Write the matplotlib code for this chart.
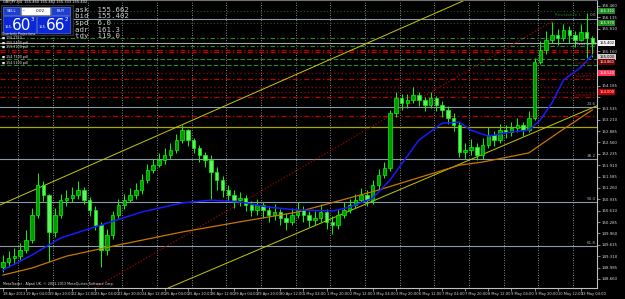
#  GBPJPY H4 chart, MetaTrader style, recreated with matplotlib

import numpy as np
import matplotlib
matplotlib.use("Agg")
import matplotlib.pyplot as plt
from matplotlib.patches import Rectangle

#  H4 candles (price)
opens = [149.00, 149.14, 149.26, 149.31, 149.49, 149.77, 150.49, 151.34, 151.06, 150.00,
         150.49, 150.91, 150.97, 151.06, 151.20, 150.91, 150.63, 150.20, 149.49, 149.91,
         150.49, 150.77, 150.91, 151.06, 151.20, 151.49, 151.77, 151.91, 152.06, 152.20,
         152.34, 152.63, 152.91, 152.63, 152.40, 152.20, 152.06, 151.71, 151.49, 151.20,
         151.06, 150.91, 150.97, 150.77, 150.63, 150.77, 150.63, 150.49, 150.57, 150.40,
         150.29, 150.49, 150.63, 150.49, 150.34, 150.40, 150.57, 150.29, 150.20, 150.49,
         150.63, 150.77, 150.91, 151.06, 150.91, 151.34, 151.63, 151.83, 153.40, 153.83,
         153.69, 153.77, 153.91, 153.77, 153.63, 153.83, 153.63, 153.49, 153.26, 153.06,
         152.29, 152.34, 152.43, 152.20, 152.49, 152.77, 152.63, 152.91, 152.86, 152.97,
         153.06, 152.91, 153.26, 154.86, 155.20, 155.49, 155.63, 155.54, 155.77, 155.63,
         155.49, 155.71, 155.54]
closes = [149.14, 149.26, 149.31, 149.49, 149.77, 150.49, 151.34, 151.06, 150.00, 150.49,
          150.91, 150.97, 151.06, 151.20, 150.91, 150.63, 150.20, 149.49, 149.91, 150.49,
          150.77, 150.91, 151.06, 151.20, 151.49, 151.77, 151.91, 152.06, 152.20, 152.34,
          152.63, 152.91, 152.63, 152.40, 152.20, 152.06, 151.71, 151.49, 151.20, 151.06,
          150.91, 150.97, 150.77, 150.63, 150.77, 150.63, 150.49, 150.57, 150.40, 150.29,
          150.49, 150.63, 150.49, 150.34, 150.40, 150.57, 150.29, 150.20, 150.49, 150.63,
          150.77, 150.91, 151.06, 150.91, 151.34, 151.63, 151.83, 153.40, 153.83, 153.69,
          153.77, 153.91, 153.77, 153.63, 153.83, 153.63, 153.49, 153.26, 153.06, 152.29,
          152.34, 152.43, 152.20, 152.49, 152.77, 152.63, 152.91, 152.86, 152.97, 153.06,
          152.91, 153.26, 154.86, 155.20, 155.49, 155.63, 155.54, 155.77, 155.63, 155.49,
          155.71, 155.54, 155.40]
highs = [149.35, 149.45, 149.55, 149.70, 150.05, 150.70, 151.70, 151.45, 151.10, 150.70,
         151.10, 151.20, 151.30, 151.45, 151.30, 151.00, 150.75, 150.30, 150.10, 150.60,
         150.95, 151.10, 151.25, 151.40, 151.65, 151.95, 152.10, 152.25, 152.40, 152.55,
         152.80, 153.06, 152.95, 152.70, 152.50, 152.30, 152.20, 151.85, 151.60, 151.35,
         151.20, 151.15, 151.05, 150.90, 150.95, 150.85, 150.75, 150.80, 150.65, 150.55,
         150.70, 150.85, 150.75, 150.60, 150.60, 150.80, 150.65, 150.45, 150.65, 150.85,
         150.95, 151.10, 151.25, 151.20, 151.50, 151.80, 152.00, 153.50, 154.00, 153.95,
         153.95, 154.15, 154.00, 153.85, 154.00, 153.90, 153.75, 153.60, 153.40, 153.15,
         152.55, 152.65, 152.55, 152.70, 153.00, 152.90, 153.10, 153.05, 153.15, 153.25,
         153.15, 153.45, 154.98, 155.45, 155.75, 156.00, 155.80, 155.95, 155.90, 155.75,
         155.95, 156.25, 155.60]
lows = [148.85, 149.00, 149.10, 149.20, 149.40, 149.70, 150.40, 150.90, 149.14, 149.85,
        150.40, 150.75, 150.85, 150.95, 150.80, 150.45, 150.05, 149.00, 149.35, 149.80,
        150.40, 150.65, 150.85, 150.95, 151.10, 151.40, 151.70, 151.85, 151.95, 152.10,
        152.25, 152.55, 152.45, 152.25, 152.00, 151.85, 150.95, 151.20, 151.00, 150.85,
        150.70, 150.75, 150.60, 150.45, 150.50, 150.40, 150.30, 150.35, 150.20, 150.05,
        150.20, 150.40, 150.30, 150.15, 150.20, 150.30, 150.10, 149.95, 150.10, 150.40,
        150.55, 150.70, 150.85, 150.75, 150.80, 151.20, 151.55, 151.75, 153.30, 153.50,
        153.55, 153.70, 153.60, 153.45, 153.55, 153.45, 153.30, 153.10, 152.90, 152.15,
        152.10, 152.20, 152.05, 152.10, 152.40, 152.45, 152.55, 152.70, 152.75, 152.85,
        152.75, 152.85, 153.20, 154.80, 155.10, 155.40, 155.35, 155.45, 155.40, 155.30,
        155.45, 154.97, 155.00]

#  moving averages (bar, price)
ma_fast_bar = [0, 5, 10, 17, 24, 31, 36, 41, 46, 51, 57, 60, 64, 67, 72, 76, 79, 81, 84, 88,
               91, 93, 95, 97, 100, 102]
ma_fast = [148.91, 149.34, 149.83, 150.20, 150.57, 150.83, 150.91, 150.86, 150.71, 150.63,
           150.60, 150.71, 150.97, 151.49, 152.63, 153.11, 153.14, 152.91, 152.74, 152.86,
           152.91, 153.20, 153.69, 154.34, 154.71, 155.06]
ma_slow_bar = [0, 5, 11, 20, 31, 41, 51, 65, 79, 83, 91, 96, 102]
ma_slow = [148.77, 148.97, 149.31, 149.63, 150.00, 150.29, 150.57, 151.20, 151.91, 152.00,
           152.26, 152.83, 153.49]

#  trend lines, two anchors each (bar, price)
chan_upper = [(0, 150.81), (80, 156.63)]
chan_lower = [(42, 149.34), (95, 153.06)]
red_trend_bar = [15.9, 95.5]
red_trend = [148.40, 156.06]

#  horizontal levels
res_dotted = [156.31, 155.97]
green_dashdot = [155.54, 155.31]
green_dashed = [154.94, 154.77]
red_dashdot = [155.20, 155.14, 154.37, 153.86, 153.31]
red_dotted = [154.54, 154.14, 154.00]
fib_levels = [156.10, 153.57, 152.09, 150.86, 149.60]
fib_labels = ["0.0", "23.6", "38.2", "50.0", "61.8"]
bid = 155.402
yellow_level = 153.00

pivot_names = ["Resistance 1", "Pivot level", "Support 1", "Support 2", "Support 3"]
pivot_label_x = [95.5, 99.0, 99.0, 99.0, 99.0]
pivot_label_y = [156.20, 155.37, 154.83, 154.46, 153.91]
pivot_colors = ["#1f7a1f", "#c8c8c8", "#8b1010", "#8b1010", "#8b1010"]

tag_prices = [156.31, 155.97, 155.402, 155.00, 154.86, 154.54, 154.00]
tag_colors = ["#1f8a1f", "#1f8a1f", "#f0f0f0", "#c8c8c8", "#7a0000", "#ff3355", "#c00000"]

date_labels = ["18 Apr 2013", "19 Apr 04:00", "19 Apr 20:00", "22 Apr 12:00", "23 Apr 04:00",
               "23 Apr 20:00", "24 Apr 12:00", "25 Apr 04:00", "25 Apr 20:00", "26 Apr 12:00",
               "29 Apr 04:00", "29 Apr 20:00", "30 Apr 12:00", "1 May 04:00", "1 May 20:00",
               "2 May 12:00", "3 May 04:00", "3 May 20:00", "6 May 12:00", "7 May 04:00",
               "7 May 20:00", "8 May 12:00", "9 May 04:00", "9 May 20:00", "10 May 12:00",
               "13 May 04:00"]

info_lines = ["ask  155.662", "bid  155.402", "spd  6.0", "adr  161.3", "tdy  119.0"]
proj_lines = ["Quarterly Projections", "\u25a0 156.1250", "\u25a0 155.5400 pdl",
              "\u25a0 155.3100 pdl", "\u25a0 154.7500 pdl", "\u25a0 154.5100 pdl"]

################################################################

o = np.array(opens)
c = np.array(closes)
h = np.array(highs)
l = np.array(lows)
bars = np.arange(len(c))

fig = plt.figure(figsize=(6.25, 2.99), dpi=100, facecolor='black')
ax = fig.add_axes([0, 11/299, 597/625, 288/299], facecolor='black')

#  day separators
for d in np.arange(3, 104, 6):
    ax.axvline(d - 0.35, color='#b4b4b4', ls=(0, (1, 2)), lw=0.6, zorder=1)

#  levels
for v in fib_levels:
    ax.axhline(v, color='#8c9aa8', lw=0.8, zorder=1)
ax.axhline(bid, color='#a8a8a8', lw=0.8, zorder=1)
ax.axhline(yellow_level, color='#a8a800', lw=0.9, zorder=1)
for v in res_dotted:
    ax.axhline(v, color='#1c5c1c', ls=(0, (1, 2)), lw=0.8, zorder=1)
for v in green_dashdot:
    ax.axhline(v, color='#2e8b2e', ls=(0, (4, 2, 1, 2)), lw=0.8, zorder=1)
for v in green_dashed:
    ax.axhline(v, color='#2e8b2e', ls=(0, (4, 2)), lw=0.8, zorder=1)
for v in red_dashdot:
    ax.axhline(v, color='#c00000', ls=(0, (4, 2, 1, 2)), lw=0.9, zorder=1)
for v in red_dotted:
    ax.axhline(v, color='#a00000', ls=(0, (1, 2)), lw=0.9, zorder=1)

#  trend lines
ax.axline(chan_upper[0], chan_upper[1], color='#c8c800', lw=0.7, zorder=2)
ax.axline(chan_lower[0], chan_lower[1], color='#c8c800', lw=0.7, zorder=2)
ax.plot(red_trend_bar, red_trend, color='#a00000', ls=(0, (1, 1.5)), lw=0.9, zorder=2)

#  candles
ax.vlines(bars, l, h, color='#00ff00', lw=0.7, zorder=3)
body = np.maximum(np.abs(c - o), 0.02)
up = c >= o
ax.bar(bars, body, bottom=np.minimum(o, c), width=0.6,
       color=np.where(up, '#009a00', '#66ee66'), edgecolor='#00ff00', lw=0.5, zorder=4)

#  moving averages
ax.plot(ma_slow_bar, ma_slow, color='#c87800', lw=0.9, zorder=5)
ax.plot(ma_fast_bar, ma_fast, color='#1a1aff', lw=1.1, zorder=5)

#  labels on levels
for v, t in zip(fib_levels, fib_labels):
    ax.text(102.6, v + 0.03, t, ha='right', va='bottom', fontsize=3, color='#a0b0c0', zorder=6)
for t, x, y, col in zip(pivot_names, pivot_label_x, pivot_label_y, pivot_colors):
    ax.text(x, y, t, ha='left', va='center', fontsize=3, color=col, zorder=6)

ax.set_xlim(-0.5, 102.8)
ax.set_ylim(148.40, 156.63)

ax.set_xticks(np.arange(0, 101, 4), date_labels, ha='left')
ax.yaxis.tick_right()
yt = np.arange(156.460, 148.40, -0.325)
#  the coloured tags cover the scale labels under them
ylab = ["" if min(abs(v - p) for p in tag_prices) < 0.15 else f"{v:.3f}" for v in yt]
ax.set_yticks(yt, ylab)
ax.tick_params(axis='both', colors='#c0c0c0', labelcolor='#d8d8d8', labelsize=2.8,
               length=2, width=0.5, pad=1)
ax.tick_params(axis='x', labelsize=2.6)
ax.spines['left'].set_visible(False)
for s in ['right', 'bottom']:
    ax.spines[s].set_color('#c0c0c0')
    ax.spines[s].set_linewidth(0.8)
ax.spines['top'].set_color('#707070')

#  price tags on the right scale
for v, col in zip(tag_prices, tag_colors):
    tc = 'black' if col in ('#f0f0f0', '#c8c8c8') else 'white'
    ax.text(1.004, v, f"{v:.3f}", transform=ax.get_yaxis_transform(), ha='left', va='center',
            fontsize=2.6, color=tc, clip_on=False, zorder=7,
            bbox=dict(boxstyle='square,pad=0.25', fc=col, ec='none'))

#  overlay in pixel coordinates
ov = fig.add_axes([0, 0, 1, 1])
ov.set_xlim(0, 625)
ov.set_ylim(299, 0)
ov.axis('off')
ov.patch.set_alpha(0)

ov.text(3, 2.5, "GBPJPY,H4  155.460 155.483 155.333 155.402", fontsize=2.6,
        color='white', va='center')

ov.add_patch(Rectangle((1, 5), 72, 30, fc='#101018', ec='#404040', lw=0.5))
ov.add_patch(Rectangle((3, 7), 17, 8, fc='#1c3fd0', ec='#7090ff', lw=0.4))
ov.text(11.5, 11, "SELL", fontsize=3, color='white', ha='center', va='center')
ov.add_patch(Rectangle((21, 7), 29, 8, fc='white', ec='#909090', lw=0.4))
ov.text(24, 11, "-", fontsize=3.5, color='black', ha='center', va='center')
ov.text(40, 11, "0.02", fontsize=3, color='black', ha='center', va='center')
ov.add_patch(Rectangle((51, 7), 19, 8, fc='#1c3fd0', ec='#7090ff', lw=0.4))
ov.text(60.5, 11, "BUY", fontsize=3, color='white', ha='center', va='center')
for x0, big, sup in [(3, "60", "3"), (37, "66", "2")]:
    ov.add_patch(Rectangle((x0, 16), 33, 17, fc='#0a28d8', ec='#6080ff', lw=0.4))
    ov.text(x0 + 2, 27, "155.", fontsize=2.6, color='white', va='center')
    ov.text(x0 + 19, 25, big, fontsize=11, color='white', ha='center', va='center')
    ov.text(x0 + 28, 19.5, sup, fontsize=4, color='white', va='center')

for i, t in enumerate(info_lines):
    ov.text(75, 10 + 6.5 * i, t, family='DejaVu Sans Mono', fontsize=5.3,
            color='#d0d0d0', va='center')

for i, t in enumerate(proj_lines):
    yy = [34, 38, 43, 47, 57, 63][i]
    ov.text(2, yy, t, fontsize=2.3, color='#e8e8e8', va='center')

ov.text(3, 284, "MetaTrader - Alpari UK, \u00a9 2001-2013 MetaQuotes Software Corp.",
        fontsize=2.4, color='#e0e0e0', va='center')

fig.savefig("out.png", dpi=100, facecolor='black')
plt.close()
